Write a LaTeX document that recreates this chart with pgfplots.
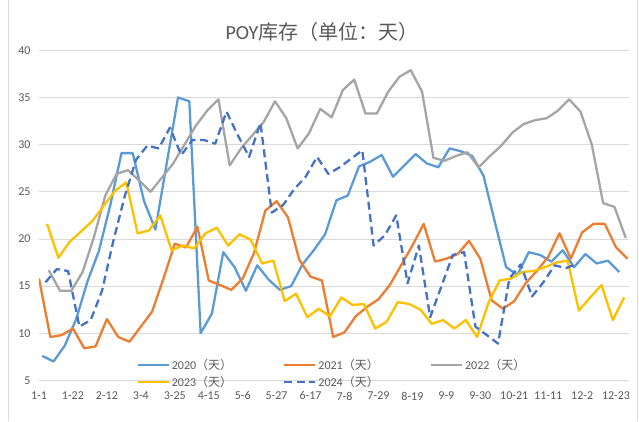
\documentclass[border=0pt]{standalone}
\usepackage{fontspec}
\setmainfont{Carlito}
\newfontfamily\cjk{Noto Sans CJK SC}
\usepackage{pgfplots}
\pgfplotsset{compat=1.18}

\definecolor{c2020}{HTML}{5B9BD5}
\definecolor{c2021}{HTML}{ED7D31}
\definecolor{c2022}{HTML}{A5A5A5}
\definecolor{c2023}{HTML}{FFC000}
\definecolor{c2024}{HTML}{4472C4}
\definecolor{txt}{HTML}{595959}
\definecolor{gridc}{HTML}{D9D9D9}

% x = day of year (leap-year calendar), one point per week
\pgfplotstableread{
x y
2 7.6
9 7.0
16 8.7
23 11.5
30 15.5
37 18.7
44 23.5
51 29.1
58 29.1
65 24.0
72 21.0
79 28.0
86 35.0
93 34.6
100 10.0
107 12.1
114 18.6
121 17.0
128 14.5
135 17.2
142 15.7
149 14.6
156 15.0
163 17.3
170 18.8
177 20.5
184 24.1
191 24.6
198 27.7
205 28.2
212 28.9
219 26.6
226 27.8
233 29.0
240 28.0
247 27.6
254 29.6
261 29.3
268 28.8
275 26.7
282 21.8
289 17.0
296 16.2
303 18.6
310 18.3
317 17.6
324 18.8
331 17.0
338 18.4
345 17.4
352 17.7
359 16.5
}\yrA

\pgfplotstableread{
x y
0 15.8
7 9.6
14 9.8
21 10.5
28 8.4
35 8.6
42 11.5
49 9.6
56 9.1
63 10.7
70 12.3
77 15.8
84 19.5
91 19.1
98 21.3
105 15.6
112 15.1
119 14.6
126 15.8
133 18.5
140 23.0
147 24.0
154 22.3
161 17.8
168 16.0
175 15.6
182 9.6
189 10.1
196 11.8
203 12.8
210 13.6
217 15.1
224 17.2
231 19.3
238 21.6
245 17.6
252 17.9
259 18.4
266 19.8
273 17.9
280 13.5
287 12.6
294 13.4
301 15.3
308 16.6
315 18.1
322 20.6
329 17.9
336 20.7
343 21.6
350 21.6
357 19.1
364 17.9
}\yrB

\pgfplotstableread{
x y
6 16.7
13 14.5
20 14.5
27 16.5
34 20.2
41 24.6
48 26.9
55 27.3
62 26.2
69 25.0
76 26.5
83 28.0
90 30.0
97 32.0
104 33.6
111 34.8
118 27.8
125 29.6
132 31.0
139 32.4
146 34.6
153 32.8
160 29.6
167 31.2
174 33.8
181 32.9
188 35.8
195 36.9
202 33.3
209 33.3
216 35.6
223 37.2
230 37.9
237 35.6
244 28.6
251 28.3
258 28.8
265 29.2
272 27.6
279 28.8
286 29.9
293 31.3
300 32.2
307 32.6
314 32.8
321 33.6
328 34.8
335 33.5
342 30.0
349 23.8
356 23.4
363 20.1
}\yrC

\pgfplotstableread{
x y
5 21.6
12 18.0
19 19.7
26 20.8
33 21.9
40 23.5
47 25.1
54 26.0
61 20.6
68 20.9
75 22.5
82 18.8
89 19.3
96 19.0
103 20.6
110 21.2
117 19.3
124 20.5
131 19.9
138 17.4
145 17.7
152 13.4
159 14.2
166 11.7
173 12.6
180 11.8
187 13.8
194 13.0
201 13.1
208 10.5
215 11.2
222 13.3
229 13.1
236 12.5
243 11.0
250 11.4
257 10.5
264 11.4
271 9.6
278 13.2
285 15.6
292 15.8
299 16.5
306 16.6
313 17.0
320 17.5
327 17.7
334 12.4
341 13.8
348 15.1
355 11.4
362 13.8
}\yrD

\pgfplotstableread{
x y
4 15.4
11 16.8
18 16.6
25 10.7
32 11.4
39 14.5
46 19.8
53 24.5
60 28.4
67 29.9
74 29.6
81 31.8
88 28.9
95 30.5
102 30.5
109 30.1
116 33.5
123 31.0
130 28.7
137 32.3
144 22.8
151 23.6
158 25.3
165 26.6
172 28.7
179 26.9
186 27.6
193 28.5
200 29.4
207 19.3
214 20.4
221 22.5
228 15.3
235 19.3
242 11.7
249 15.0
256 18.3
263 18.6
270 10.7
277 9.8
284 8.9
291 15.8
298 17.3
305 13.9
312 15.4
319 17.2
326 16.9
333 17.4
}\yrE

\begin{document}
\begin{tikzpicture}
\begin{axis}[
  scale only axis,
  width=590bp, height=330bp,
  xmin=0, xmax=365, ymin=5, ymax=40,
  axis lines*=left,
  axis line style={draw=none},
  xtick={0,21,...,357},
  xticklabels={1-1,1-22,2-12,3-4,3-25,4-15,5-6,5-27,6-17,7-8,7-29,8-19,9-9,9-30,10-21,11-11,12-2,12-23},
  ytick={5,10,...,40},
  ymajorgrids,
  grid style={gridc, line width=0.75bp},
  major tick length=0pt,
  tick label style={font=\fontsize{12bp}{14bp}\selectfont, text=txt},
  /pgf/number format/assume math mode=true,
  yticklabel style={xshift=-5bp},
  xticklabel style={yshift=-8bp},
  legend columns=3,
  legend style={at={(0.160,-0.035)}, anchor=south west, draw=none, fill=none,
    font=\fontsize{12bp}{14bp}\selectfont, text=txt, row sep=1bp,
    /tikz/every even column/.append style={column sep=49bp}},
  legend image code/.code={\draw[#1] (0bp,0bp) -- (31bp,0bp);},
  every axis plot/.append style={line width=2.3bp, line join=round},
]
\addplot[c2020] table[x=x, y=y] {\yrA};
\addlegendentry{2020\cjk{（天）}}
\addplot[c2021] table[x=x, y=y] {\yrB};
\addlegendentry{2021\cjk{（天）}}
\addplot[c2022] table[x=x, y=y] {\yrC};
\addlegendentry{2022\cjk{（天）}}
\addplot[c2023] table[x=x, y=y] {\yrD};
\addlegendentry{2023\cjk{（天）}}
\addplot[c2024, dash pattern=on 8bp off 4.5bp] table[x=x, y=y] {\yrE};
\addlegendentry{2024\cjk{（天）}}
\end{axis}
\node[font=\fontsize{20bp}{24bp}\selectfont, text=txt] at ([shift={(-12bp,18bp)}]current axis.north) {POY\cjk{库存（单位：天）}};
\draw[gridc, line width=0.75bp] ([shift={(-31bp,-41bp)}]current axis.south west) -- ([shift={(-31bp,50bp)}]current axis.north west);
\draw[gridc, line width=0.75bp] ([shift={(8bp,-41bp)}]current axis.south east) -- ([shift={(8bp,50bp)}]current axis.north east);
\path ([shift={(-39bp,-41bp)}]current axis.south west) rectangle ([shift={(10bp,50bp)}]current axis.north east);
\end{tikzpicture}
\end{document}
